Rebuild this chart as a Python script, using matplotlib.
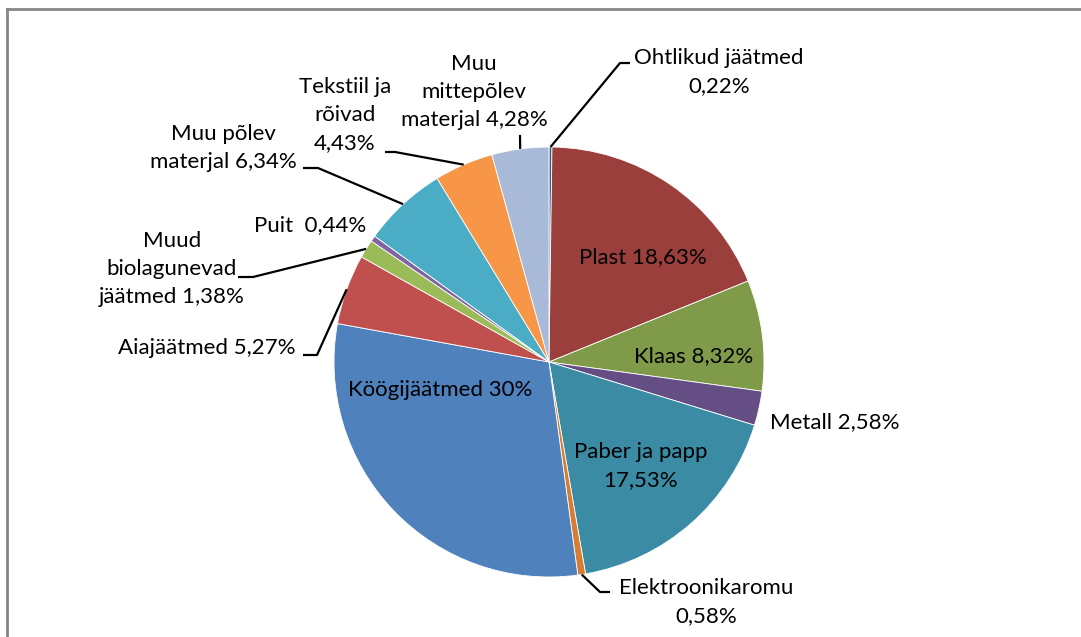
import numpy as np
import matplotlib
matplotlib.use("Agg")
import matplotlib.pyplot as plt
from matplotlib.lines import Line2D

W, H = 1081, 637

# slices, clockwise from 12 o'clock
names = ["Ohtlikud jäätmed", "Plast", "Klaas", "Metall", "Paber ja papp",
         "Elektroonikaromu", "Köögijäätmed", "Aiajäätmed",
         "Muud biolagunevad jäätmed", "Puit", "Muu põlev materjal",
         "Tekstiil ja rõivad", "Muu mittepõlev materjal"]
shares = [0.22, 18.63, 8.32, 2.58, 17.53, 0.58, 30, 5.27, 1.38, 0.44, 6.34, 4.43, 4.28]
labels = ["Ohtlikud jäätmed\n0,22%", "Plast 18,63%", "Klaas 8,32%", "Metall 2,58%",
          "Paber ja papp\n17,53%", "Elektroonikaromu\n0,58%", "Köögijäätmed 30%",
          "Aiajäätmed 5,27%", "Muud\nbiolagunevad\njäätmed 1,38%", "Puit  0,44%",
          "Muu põlev\nmaterjal 6,34%", "Tekstiil ja\nrõivad\n4,43%",
          "Muu\nmittepõlev\nmaterjal 4,28%"]
colors = ["#2C5A8C", "#9B3F3D", "#7F9A48", "#654E84", "#3A8BA3", "#D67D33",
          "#4F81BD", "#C0504D", "#9BBB59", "#8064A2", "#4BACC6", "#F79646", "#A9BAD8"]

# label centres in pixels (y down) and leader elbow points (None = no leader)
label_pos = [(719, 72), (643, 257), (694, 356), (835, 422), (641, 466), (706, 602),
             (440, 390), (207, 348), (172, 269), (310, 225), (223, 148),
             (345, 115), (474, 92)]
elbows = [[(630, 63), (620, 63)], None, None, None, None, [(610, 592), (600, 592)],
          None, [(303, 355), (317, 355)], [(238, 277), (253, 277)], None,
          [(303, 168), (318, 168)], [(385, 152), (395, 152)], [(520, 135)]]

cx, cy, R = 549, 362, 215

plt.rcParams['font.family'] = ['Lato', 'DejaVu Sans']
fig = plt.figure(figsize=(W / 100, H / 100), dpi=100)
ax = fig.add_axes([0, 0, 1, 1])
wedges, _ = ax.pie(shares, colors=colors, startangle=90, counterclock=False,
                   center=(cx, H - cy), radius=R,
                   wedgeprops=dict(edgecolor='white', linewidth=0.6))
ax.set_xlim(0, W)
ax.set_ylim(0, H)
ax.set_aspect('auto')
ax.axis('off')

for w, lab, (lx, ly), elb in zip(wedges, labels, label_pos, elbows):
    ax.text(lx, H - ly, lab, ha='center', va='center', fontsize=16,
            color='black', linespacing=1.5)
    if elb is None:
        continue
    mid = np.deg2rad((w.theta1 + w.theta2) / 2)
    px = cx + R * np.cos(mid)
    py = (H - cy) + R * np.sin(mid)
    xs = [p[0] for p in elb] + [px]
    ys = [H - p[1] for p in elb] + [py]
    ax.plot(xs, ys, color='black', lw=1.6, solid_capstyle='butt')

# chart frame (only top and left edges visible in the crop)
fig.add_artist(Line2D([6.5 / W, 1], [1 - 8.5 / H, 1 - 8.5 / H], color='#868686', lw=2))
fig.add_artist(Line2D([6.5 / W, 6.5 / W], [0, 1 - 8.5 / H], color='#868686', lw=2))

fig.savefig('out.png', dpi=100, facecolor='white')
